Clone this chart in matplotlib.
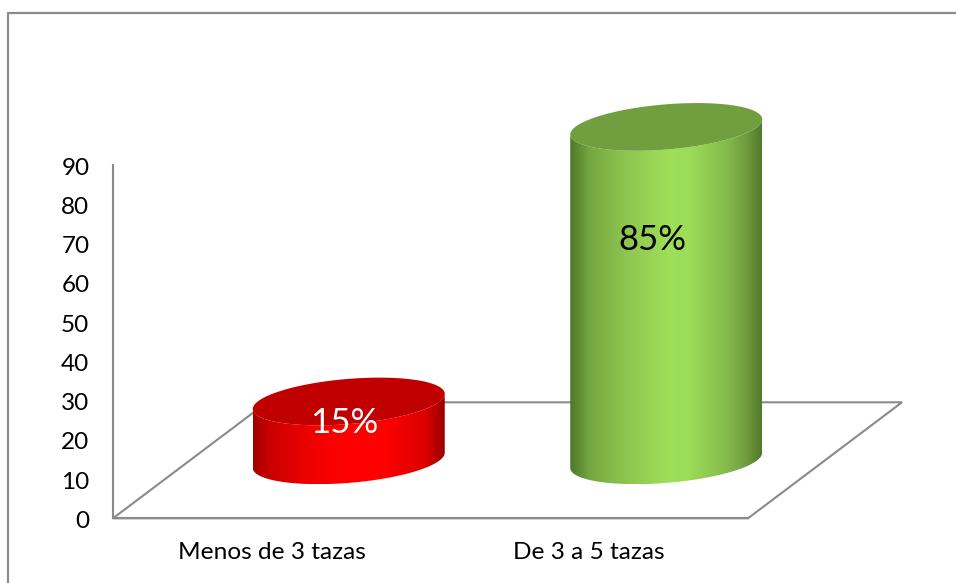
import numpy as np
import matplotlib
matplotlib.use("Agg")
import matplotlib.pyplot as plt
from matplotlib.colors import LinearSegmentedColormap
from matplotlib.lines import Line2D
from matplotlib.patches import Polygon
from matplotlib.transforms import ScaledTranslation

# --- data ---
categories = ["Menos de 3 tazas", "De 3 a 5 tazas"]
values = [15, 85]
value_labels = ["15%", "85%"]
yticks = [0, 10, 20, 30, 40, 50, 60, 70, 80, 90]

# --- style ---
plt.rcParams["font.family"] = ["Lato", "DejaVu Sans"]
W, H = 956, 583
GRAY = "#8a8a8a"
wall_cmaps = [
    LinearSegmentedColormap.from_list("r", [(0, "#a00000"), (0.08, "#c80000"), (0.3, "#f00000"), (0.5, "#ff0000"),
                                            (0.68, "#ff0000"), (0.9, "#dc0000"), (1, "#980000")]),
    LinearSegmentedColormap.from_list("g", [(0, "#4f772c"), (0.1, "#74a63f"), (0.28, "#8cc44f"), (0.52, "#9ee05a"),
                                            (0.62, "#9cdc58"), (0.82, "#84ba4b"), (0.92, "#6f9c3e"), (1, "#527a2d")]),
]
cap_colors = ["#c00000", "#719e3f"]
text_colors = ["white", "black"]

fig = plt.figure(figsize=(W / 100, H / 100), dpi=100, facecolor="white")
ax = fig.add_axes([113 / W, 1 - 518.3 / H, (748 - 113) / W, (518 - 165) / H])
ax.patch.set_visible(False)
ax.set_xlim(-0.5, 1.5)
ax.set_ylim(0, 90)

# pixel-to-unit scales for the fake 3D depth
ux = (748 - 113) / 2
uy = (518 - 165) / 90
depth_x = 154 / ux
depth_y = 116 / uy
half_w = 96 / ux
semi_b = 22.6 / uy
shear = 7.6 / uy

# floor
floor = Polygon([(-0.5, 0), (1.5, 0), (1.5 + depth_x, depth_y), (-0.5 + depth_x, depth_y)], closed=True,
                fill=False, edgecolor=GRAY, lw=1.5, clip_on=False, zorder=1)
ax.add_patch(floor)


def rim(cx, cy, t):
    return cx + half_w * np.cos(t), cy + semi_b * np.sin(t) + shear * np.cos(t)


grad = np.linspace(0, 1, 512).reshape(1, -1)
for i, v in enumerate(values):
    cx = i + depth_x / 2
    base = depth_y / 2
    top = base + v
    tb = np.linspace(np.pi, 2 * np.pi, 120)
    xb, yb = rim(cx, base, tb)
    xt, yt = rim(cx, top, tb[::-1])
    wall = Polygon(np.column_stack([np.r_[xb, xt], np.r_[yb, yt]]), closed=True, transform=ax.transData,
                   facecolor="none", edgecolor="none")
    ax.add_patch(wall)
    wall.set_clip_on(False)
    im = ax.imshow(grad, cmap=wall_cmaps[i], aspect="auto", vmin=0, vmax=1, interpolation="bilinear",
                   extent=[cx - half_w, cx + half_w, yb.min(), top + semi_b], zorder=2)
    im.set_clip_box(fig.bbox)
    im.set_clip_path(wall)
    tc = np.linspace(0, 2 * np.pi, 240)
    xc, yc = rim(cx, top, tc)
    ax.add_patch(Polygon(np.column_stack([xc, yc]), closed=True, facecolor=cap_colors[i], edgecolor="none",
                         clip_on=False, zorder=3))
    ax.text(cx - (2 + 0.14 * v) / ux, top - v / 3 - 2 / uy, value_labels[i], ha="center", va="center",
            fontsize=25, color=text_colors[i], zorder=5, clip_on=False)

ax.set_xlim(-0.5, 1.5)
ax.set_ylim(0, 90)
ax.set_xticks([0, 1], categories)
ax.set_yticks(yticks)
ax.tick_params(axis="both", length=0, colors="black")
ax.tick_params(axis="y", labelsize=17.5, pad=17)
ax.tick_params(axis="x", labelsize=17.6, pad=17)
shift = ScaledTranslation(0, -1 / 100, fig.dpi_scale_trans)
for lab in ax.get_yticklabels():
    lab.set_transform(lab.get_transform() + shift)
for s in ("top", "right"):
    ax.spines[s].set_visible(False)
for s in ("left", "bottom"):
    ax.spines[s].set_color(GRAY)
    ax.spines[s].set_linewidth(1.5)

# outer chart frame (only top and left edges fall inside the picture)
fx, fy = 8.2 / W, 1 - 13.3 / H
fig.add_artist(Line2D([fx, fx, 1], [0, fy, fy], transform=fig.transFigure, color="#8c8c8c", lw=1.6))

fig.savefig("out.png", dpi=100)
